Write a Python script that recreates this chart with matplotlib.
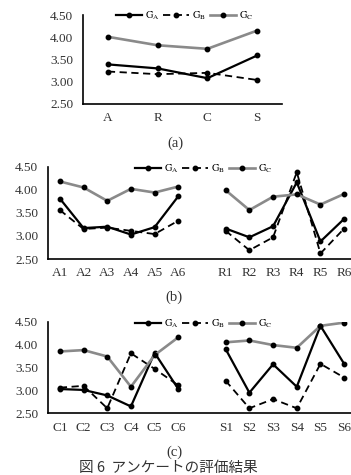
import numpy as np
import matplotlib
matplotlib.use('Agg')
import matplotlib.pyplot as plt

plt.rcParams['font.family'] = ['Liberation Serif', 'Noto Sans CJK JP']
plt.rcParams['mathtext.fontset'] = 'stix'

# (a) overall
cats_a = ['A', 'R', 'C', 'S']
ga_a = [3.39, 3.30, 3.08, 3.59]
gb_a = [3.23, 3.17, 3.20, 3.04]
gc_a = [4.01, 3.82, 3.74, 4.15]

# (b) A / R items (None = gap between the two groups)
cats_b = ['A1', 'A2', 'A3', 'A4', 'A5', 'A6', '', 'R1', 'R2', 'R3', 'R4', 'R5', 'R6']
ga_b = [3.81, 3.17, 3.20, 3.03, 3.19, 3.86, None, 3.16, 2.97, 3.21, 4.16, 2.88, 3.37]
gb_b = [3.56, 3.15, 3.18, 3.11, 3.04, 3.33, None, 3.11, 2.69, 2.97, 4.38, 2.62, 3.16]
gc_b = [4.18, 4.05, 3.76, 4.02, 3.94, 4.07, None, 3.99, 3.56, 3.85, 3.90, 3.68, 3.91]

# (c) C / S items
cats_c = ['C1', 'C2', 'C3', 'C4', 'C5', 'C6', '', 'S1', 'S2', 'S3', 'S4', 'S5', 'S6']
ga_c = [3.03, 3.01, 2.89, 2.65, 3.82, 3.03, None, 3.90, 2.95, 3.57, 3.08, 4.41, 3.58]
gb_c = [3.06, 3.10, 2.61, 3.81, 3.47, 3.11, None, 3.21, 2.61, 2.81, 2.61, 3.58, 3.28]
gc_c = [3.85, 3.88, 3.74, 3.08, 3.77, 4.16, None, 4.05, 4.09, 3.99, 3.93, 4.41, 4.48]

yticks = [2.50, 3.00, 3.50, 4.00, 4.50]

W, H = 351, 475
fig = plt.figure(figsize=(W / 100, H / 100), dpi=100)


def px_axes(left, top, right, bottom):
    return fig.add_axes([left / W, 1 - bottom / H, (right - left) / W, (bottom - top) / H])


def draw_panel(ax, cats, ga, gb, gc, legend_x, legend_y):
    x = np.arange(len(cats))
    def arr(v):
        return np.array([np.nan if a is None else a for a in v], dtype=float)
    ax.plot(x, arr(ga), color='black', lw=1.6, marker='o', ms=3.2, label=r'$\mathrm{G_A}$')
    ax.plot(x, arr(gb), color='black', lw=1.3, ls=(0, (4, 2.5)), marker='o', ms=3.2,
            label=r'$\mathrm{G_B}$')
    ax.plot(x, arr(gc), color='#8a8a8a', lw=1.9, marker='o', ms=3.2, mfc='black',
            mec='black', label=r'$\mathrm{G_C}$')
    ax.set_xlim(-0.5, len(cats) - 0.5)
    ax.set_ylim(2.5, 4.5)
    ax.set_xticks(x)
    ax.set_xticklabels(cats)
    ax.set_yticks(yticks)
    ax.set_yticklabels(['%.2f' % t for t in yticks])
    ax.tick_params(length=0, labelsize=9.5, colors='#333333')
    ax.tick_params(axis='y', pad=7)
    ax.tick_params(axis='x', pad=6)
    for s in ['top', 'right']:
        ax.spines[s].set_visible(False)
    for s in ['left', 'bottom']:
        ax.spines[s].set_linewidth(1.2)
    ax.patch.set_alpha(0)
    ax.legend(loc='center left', bbox_to_anchor=(legend_x / W, 1 - legend_y / H),
              bbox_transform=fig.transFigure, ncol=3, frameon=False, fontsize=7.5,
              handlelength=2.5, handletextpad=0.3, columnspacing=0.3, borderpad=0)


ax_a = px_axes(83, 15, 282, 104)
draw_panel(ax_a, cats_a, ga_a, gb_a, gc_a, 111, 16)
# lower panels run past the right edge of the picture, as in the source
ax_b = px_axes(48, 166.7, 356, 259)
draw_panel(ax_b, cats_b, ga_b, gb_b, gc_b, 130, 169)
ax_c = px_axes(48, 321.7, 356, 413.3)
draw_panel(ax_c, cats_c, ga_c, gb_c, gc_c, 130, 324)

fig.text(175 / W, 1 - 143 / H, '(a)', ha='center', va='center', fontsize=10.5, color='#333333')
fig.text(174 / W, 1 - 297 / H, '(b)', ha='center', va='center', fontsize=10.5, color='#333333')
fig.text(174 / W, 1 - 452 / H, '(c)', ha='center', va='center', fontsize=10.5, color='#333333')
fig.text(168 / W, 1 - 467.5 / H, '図 6  アンケートの評価結果', ha='center', va='center',
         fontsize=10.5, color='#333333', family=['Noto Sans CJK JP', 'DejaVu Sans'])

fig.savefig('out.png', dpi=100)
